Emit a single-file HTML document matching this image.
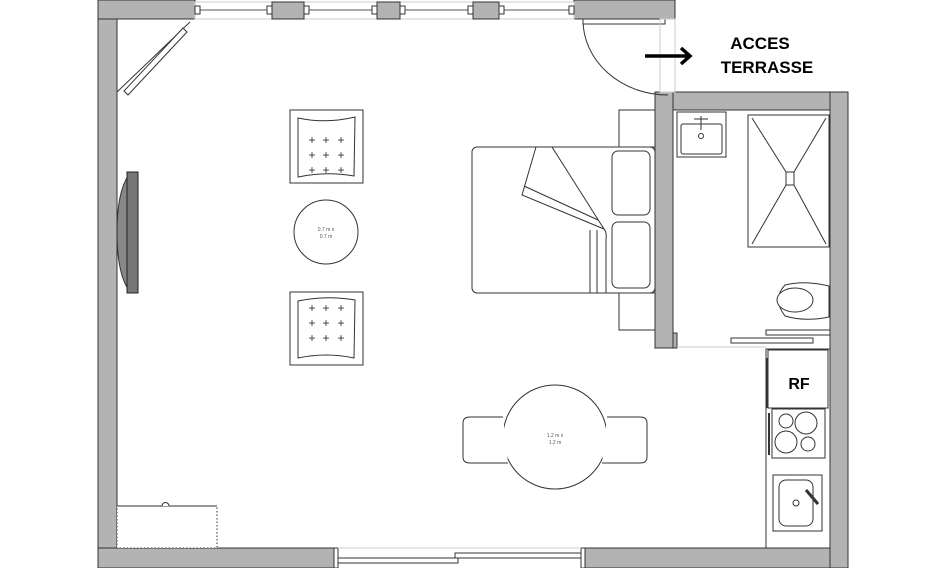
<!DOCTYPE html>
<html><head><meta charset="utf-8"><style>html,body{margin:0;padding:0;background:#fff}svg{display:block}</style></head>
<body>
<svg width="946" height="568" viewBox="0 0 946 568" xmlns="http://www.w3.org/2000/svg" font-family="Liberation Sans, sans-serif">
<g fill="#b3b3b3" stroke="#333" stroke-width="1">
<rect x="98" y="0" width="19" height="568"/>
<rect x="98" y="0" width="97" height="19"/>
<rect x="574" y="0" width="101" height="19"/>
<rect x="98" y="548" width="236" height="20"/>
<rect x="585" y="548" width="263" height="20"/>
<rect x="655" y="92" width="193" height="18"/>
<rect x="830" y="92" width="18" height="476"/>
<rect x="655" y="92" width="18" height="256"/>
</g>
<g stroke="#333" fill="#fff">
<rect x="195" y="2" width="379" height="17" fill="none" stroke="#ccc"/>
<line x1="200" y1="10" x2="570" y2="10" stroke="#555"/>
<rect x="272" y="2" width="32" height="17" fill="#b3b3b3"/>
<rect x="377" y="2" width="23" height="17" fill="#b3b3b3"/>
<rect x="473" y="2" width="26" height="17" fill="#b3b3b3"/>
<rect x="195" y="6" width="5" height="8"/><rect x="267" y="6" width="5" height="8"/><rect x="304" y="6" width="5" height="8"/>
<rect x="372" y="6" width="5" height="8"/><rect x="400" y="6" width="5" height="8"/><rect x="468" y="6" width="5" height="8"/>
<rect x="499" y="6" width="5" height="8"/><rect x="569" y="6" width="5" height="8"/>
</g>
<g stroke="#333" fill="#fff">
<line x1="117" y1="92" x2="190" y2="22"/>
<polygon points="183,28 187,32 128,95 124,91"/>
</g>
<g stroke="#333" fill="none">
<path d="M583,20 A85,75 0 0 0 668,95"/>
<rect x="583" y="19" width="82" height="5" fill="#fff"/>
<rect x="660" y="19" width="15" height="73" stroke="#ccc"/>
</g>
<line x1="645" y1="56" x2="688" y2="56" stroke="#000" stroke-width="3.5"/>
<path d="M681,48 L690,56 L681,64" stroke="#000" stroke-width="3.5" fill="none"/>
<text x="760" y="49" font-size="17" font-weight="bold" text-anchor="middle">ACCES</text>
<text x="767" y="73" font-size="17" font-weight="bold" text-anchor="middle">TERRASSE</text>
<path d="M130,173 Q117,190 117,232 Q117,275 130,292 Z" fill="#888" stroke="#333"/>
<rect x="127" y="172" width="11" height="121" fill="#777" stroke="#222"/>
<g stroke="#333" fill="#fff">
<rect x="290" y="110" width="73" height="73"/>
<path d="M298,118 Q326,124 355,117 L354,176 Q326,171 298,177 Z"/>
<rect x="290" y="292" width="73" height="73"/>
<path d="M298,301 Q326,295 355,300 L354,358 Q326,352 298,358 Z"/>
<circle cx="326" cy="232" r="32"/>
<circle cx="555" cy="437" r="52"/>
<path d="M503,417 L470,417 Q463,417 463,423 L463,457 Q463,463 470,463 L508,463"/>
<path d="M607,417 L640,417 Q647,417 647,423 L647,457 Q647,463 640,463 L602,463"/>
</g>
<g font-size="5" fill="#555" text-anchor="middle">
<text x="326" y="231">0.7 m x</text><text x="326" y="238">0.7 m</text>
<text x="555" y="437">1.2 m x</text><text x="555" y="444">1.2 m</text>
</g>
<g fill="#333" font-size="12" text-anchor="middle">
<text x="312" y="144">+</text><text x="326" y="144">+</text><text x="341" y="144">+</text>
<text x="312" y="159">+</text><text x="326" y="159">+</text><text x="341" y="159">+</text>
<text x="312" y="174">+</text><text x="326" y="174">+</text><text x="341" y="174">+</text>
<text x="312" y="312">+</text><text x="326" y="312">+</text><text x="341" y="312">+</text>
<text x="312" y="327">+</text><text x="326" y="327">+</text><text x="341" y="327">+</text>
<text x="312" y="342">+</text><text x="326" y="342">+</text><text x="341" y="342">+</text>
</g>
<g stroke="#333" fill="#fff">
<rect x="619" y="110" width="36" height="37"/>
<rect x="619" y="293" width="36" height="37"/>
<rect x="472" y="147" width="183" height="146" rx="5"/>
<rect x="612" y="151" width="38" height="64" rx="6"/>
<rect x="612" y="222" width="38" height="66" rx="6"/>
<path d="M536,147 L522,195 L604,229 L552,147 Z"/>
<line x1="524" y1="186" x2="598" y2="220"/>
<line x1="590" y1="230" x2="590" y2="293"/><line x1="597" y1="230" x2="597" y2="293"/>
<path d="M604,229 Q607,232 606,240 L606,293"/>
</g>
<g stroke="#333" fill="#fff">
<rect x="677" y="112" width="49" height="45"/>
<rect x="681" y="124" width="41" height="30" rx="2"/>
<circle cx="701" cy="136" r="2.5"/>
<line x1="701" y1="116" x2="701" y2="130"/><line x1="694" y1="119" x2="708" y2="119"/>
<rect x="748" y="115" width="81" height="132"/>
<line x1="752" y1="118" x2="786" y2="172"/><line x1="826" y1="118" x2="794" y2="172"/>
<line x1="752" y1="244" x2="786" y2="185"/><line x1="826" y1="244" x2="794" y2="185"/>
<rect x="786" y="172" width="8" height="13"/>
<path d="M829,286 Q805,280 785,285 Q772,299 785,316 Q805,322 829,317 Z"/>
<ellipse cx="795" cy="300" rx="18" ry="12"/>
<rect x="673" y="333" width="4" height="15" fill="#b3b3b3"/>
<rect x="731" y="338" width="82" height="5"/>
<rect x="766" y="330" width="64" height="5"/>
<line x1="677" y1="347" x2="766" y2="347" stroke="#ccc"/>
</g>
<g stroke="#333" fill="#fff">
<rect x="766" y="349" width="64" height="199"/>
<rect x="768" y="350" width="60" height="58"/>
<rect x="772" y="409" width="53" height="49"/>
<circle cx="786" cy="421" r="7"/><circle cx="806" cy="423" r="11"/>
<circle cx="786" cy="442" r="11"/><circle cx="808" cy="444" r="7"/>
<rect x="773" y="475" width="49" height="56"/>
<rect x="779" y="480" width="34" height="46" rx="7"/>
<circle cx="796" cy="503" r="3"/>
<line x1="806" y1="490" x2="818" y2="504" stroke-width="3"/>
<line x1="767" y1="358" x2="767" y2="408" stroke-width="1.5"/>
<line x1="769" y1="413" x2="769" y2="455" stroke-width="2"/>
</g>
<text x="799" y="389" font-size="16" font-weight="bold" text-anchor="middle">RF</text>
<g stroke="#333" fill="#fff">
<rect x="117" y="506" width="100" height="42" stroke-dasharray="1.5,2"/>
<line x1="117" y1="506" x2="217" y2="506"/>
<path d="M162,506 A3.5,3.5 0 0 1 169,506"/>
</g>
<g stroke="#333" fill="#fff">
<rect x="334" y="548" width="4" height="20"/>
<rect x="581" y="548" width="4" height="20"/>
<rect x="338" y="558" width="120" height="5"/>
<rect x="455" y="553" width="126" height="5"/>
<line x1="338" y1="548" x2="581" y2="548" stroke="#ccc"/>
</g>
</svg>
</body></html>
